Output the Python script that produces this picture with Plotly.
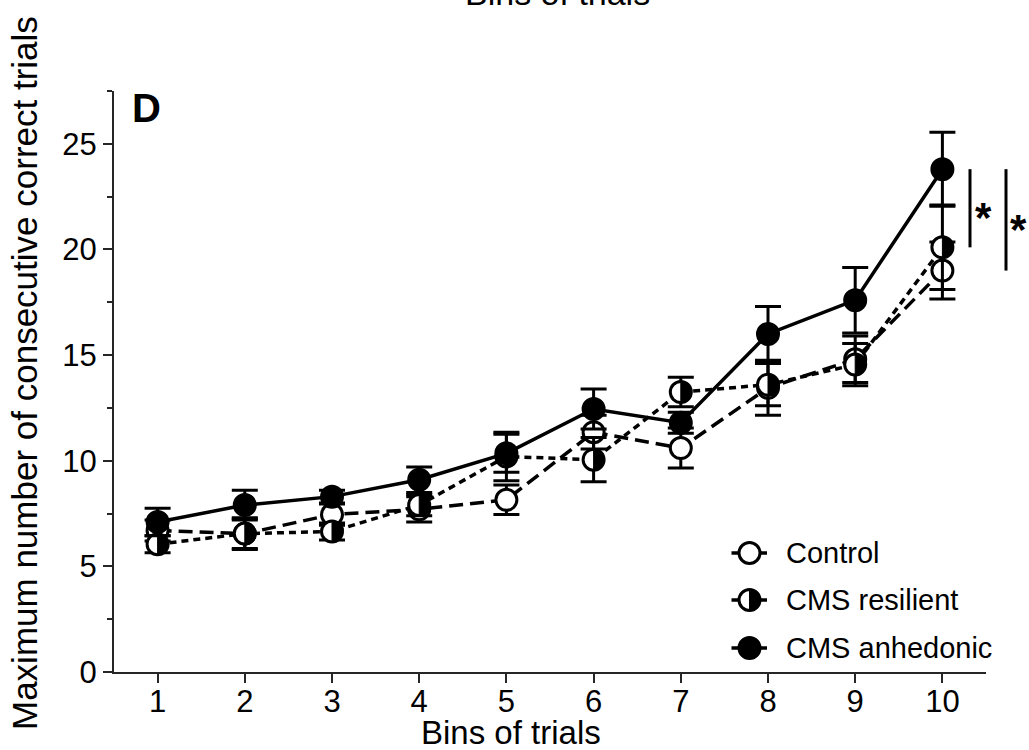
import numpy as np
import plotly.graph_objects as go

# ---- data -------------------------------------------------------------
bins = [1, 2, 3, 4, 5, 6, 7, 8, 9, 10]

control_mean = [6.7, 6.55, 7.45, 7.7, 8.15, 11.35, 10.6, 13.45, 14.8, 19.0]
control_sem = [0.5, 0.7, 0.5, 0.6, 0.7, 0.8, 0.95, 1.3, 1.1, 1.35]

resilient_mean = [6.05, 6.55, 6.65, 7.9, 10.2, 10.05, 13.25, 13.6, 14.55, 20.1]
resilient_sem = [0.4, 0.75, 0.4, 0.5, 1.15, 1.05, 0.7, 1.0, 1.0, 2.0]

anhedonic_mean = [7.1, 7.9, 8.3, 9.1, 10.35, 12.45, 11.8, 16.0, 17.6, 23.8]
anhedonic_sem = [0.65, 0.7, 0.3, 0.6, 0.9, 0.95, 0.5, 1.3, 1.55, 1.75]

series_names = ["Control", "CMS resilient", "CMS anhedonic"]
y_ticks = [0, 5, 10, 15, 20, 25]

# ---- geometry ---------------------------------------------------------
W, H = 1029, 750
ML, MR, MT, MB = 114, 43, 91, 78
XR = [0.5, 10.5]
YR = [0, 27.5]
PLOT_W = W - ML - MR
PLOT_H = H - MT - MB
PX_PER_X = PLOT_W / (XR[1] - XR[0])
PX_PER_Y = PLOT_H / (YR[1] - YR[0])


def paper_x(px):
    return (px - ML) / PLOT_W


def paper_y(py):
    return (H - MB - py) / PLOT_H


FONT = "Liberation Sans, Arial, sans-serif"
LW = 3.5
MSIZE = 21
MLINE = 3
R_PX = MSIZE / 2.0

err = dict(type="data", color="black", thickness=3, width=13, visible=True)


def half_disk_path(xs, ys, r_px):
    """Closed polygons (right half of a disc) around each point, in data units."""
    t = np.linspace(-np.pi / 2, np.pi / 2, 40)
    px, py = [], []
    for x, y in zip(xs, ys):
        px += list(x + r_px * np.cos(t) / PX_PER_X) + [x, None]
        py += list(y + r_px * np.sin(t) / PX_PER_Y) + [y - r_px / PX_PER_Y, None]
    return px, py


fig = go.Figure()

# Control: dashed line, open circles
fig.add_trace(go.Scatter(
    x=bins, y=control_mean, name=series_names[0], mode="lines+markers",
    line=dict(color="black", width=LW, dash="14px,7px"),
    marker=dict(symbol="circle", size=MSIZE, color="white",
                line=dict(color="black", width=MLINE)),
    error_y=dict(array=control_sem, **err), showlegend=False, cliponaxis=False,
))

# CMS resilient: dotted line, half-filled circles
fig.add_trace(go.Scatter(
    x=bins, y=resilient_mean, name=series_names[1], mode="lines+markers",
    line=dict(color="black", width=LW, dash="7px,5px"),
    marker=dict(symbol="circle", size=MSIZE, color="white",
                line=dict(color="black", width=MLINE)),
    error_y=dict(array=resilient_sem, **err), showlegend=False, cliponaxis=False,
))
hx, hy = half_disk_path(bins, resilient_mean, R_PX)
fig.add_trace(go.Scatter(
    x=hx, y=hy, mode="lines", fill="toself", fillcolor="black",
    line=dict(color="black", width=1), hoverinfo="skip", showlegend=False,
))

# CMS anhedonic: solid line, filled circles
fig.add_trace(go.Scatter(
    x=bins, y=anhedonic_mean, name=series_names[2], mode="lines+markers",
    line=dict(color="black", width=LW),
    marker=dict(symbol="circle", size=MSIZE, color="black",
                line=dict(color="black", width=MLINE)),
    error_y=dict(array=anhedonic_sem, **err), showlegend=False, cliponaxis=False,
))

shapes = []
annotations = []

# significance brackets at the last bin
sig_pairs = [
    (970, anhedonic_mean[-1], resilient_mean[-1], 983),
    (1006, anhedonic_mean[-1], control_mean[-1], 1018),
]
for lx, ya, yb, sx in sig_pairs:
    shapes.append(dict(type="line", xref="paper", yref="y",
                       x0=paper_x(lx), x1=paper_x(lx), y0=ya, y1=yb,
                       line=dict(color="black", width=3), layer="above"))
    annotations.append(dict(text="<b>*</b>", xref="paper", yref="y",
                            x=paper_x(sx), y=(ya + yb) / 2 - 0.45,
                            showarrow=False, xanchor="center", yanchor="middle",
                            font=dict(family=FONT, size=42, color="black")))

# legend block
legend_y = [553, 600, 648]
legend_fill = ["white", "half", "black"]
for name, py, fill in zip(series_names, legend_y, legend_fill):
    yy = paper_y(py)
    xc = paper_x(749.5)
    shapes.append(dict(type="line", xref="paper", yref="paper",
                       x0=paper_x(731.5), x1=paper_x(767), y0=yy, y1=yy,
                       line=dict(color="black", width=LW), layer="above"))
    shapes.append(dict(type="circle", xref="paper", yref="paper",
                       xsizemode="pixel", ysizemode="pixel", xanchor=xc, yanchor=yy,
                       x0=-R_PX, x1=R_PX, y0=-R_PX, y1=R_PX,
                       fillcolor="black" if fill == "black" else "white",
                       line=dict(color="black", width=MLINE), layer="above"))
    if fill == "half":
        r = R_PX
        k = 0.5523 * r
        shapes.append(dict(type="path", xref="paper", yref="paper",
                           xsizemode="pixel", ysizemode="pixel", xanchor=xc, yanchor=yy,
                           path=f"M 0,{-r} C {k},{-r} {r},{-k} {r},0 C {r},{k} {k},{r} 0,{r} Z",
                           fillcolor="black", line=dict(color="black", width=1),
                           layer="above"))
    annotations.append(dict(text=name, xref="paper", yref="paper",
                            x=paper_x(784), y=yy, xanchor="left", yanchor="middle",
                            showarrow=False,
                            font=dict(family=FONT, size=29, color="black")))

# panel letter
annotations.append(dict(text="<b>D</b>", xref="paper", yref="paper",
                        x=paper_x(146), y=paper_y(108), xanchor="center",
                        yanchor="middle", showarrow=False,
                        font=dict(family=FONT, size=40, color="black")))

# axis titles
annotations.append(dict(text="Bins of trials", xref="paper", yref="paper",
                        x=paper_x(511), y=paper_y(732), xanchor="center",
                        yanchor="middle", showarrow=False,
                        font=dict(family=FONT, size=33, color="black")))
annotations.append(dict(text="Maximum number of consecutive correct trials",
                        xref="paper", yref="paper", x=paper_x(25), y=paper_y(373),
                        xanchor="center", yanchor="middle", textangle=-90,
                        showarrow=False,
                        font=dict(family=FONT, size=35, color="black")))
# title of the panel above, running off the top edge
annotations.append(dict(text="Bins of trials", xref="paper", yref="paper",
                        x=paper_x(557), y=paper_y(-7), xanchor="center",
                        yanchor="middle", showarrow=False,
                        font=dict(family=FONT, size=34, color="black")))

axis_line = "#262626"
fig.update_layout(
    width=W, height=H,
    margin=dict(l=ML, r=MR, t=MT, b=MB, pad=0),
    paper_bgcolor="white", plot_bgcolor="white",
    showlegend=False,
    shapes=shapes, annotations=annotations,
    xaxis=dict(range=XR, tickmode="array", tickvals=bins,
               ticktext=[str(b) for b in bins],
               showgrid=False, zeroline=False, showline=True,
               linecolor=axis_line, linewidth=2,
               ticks="outside", ticklen=9, tickwidth=2, tickcolor=axis_line,
               ticklabelstandoff=-8,
               tickfont=dict(family=FONT, size=31, color="black")),
    yaxis=dict(range=YR, tickmode="array", tickvals=y_ticks,
               ticktext=[str(v) for v in y_ticks],
               showgrid=False, zeroline=False, showline=True,
               linecolor=axis_line, linewidth=2,
               ticks="outside", ticklen=9, tickwidth=2, tickcolor=axis_line,
               tickfont=dict(family=FONT, size=31, color="black"),
               minor=dict(tickmode="linear", tick0=0, dtick=2.5, ticks="outside",
                          ticklen=5, tickwidth=2, tickcolor=axis_line, showgrid=False)),
)

fig.write_html("out.html")
